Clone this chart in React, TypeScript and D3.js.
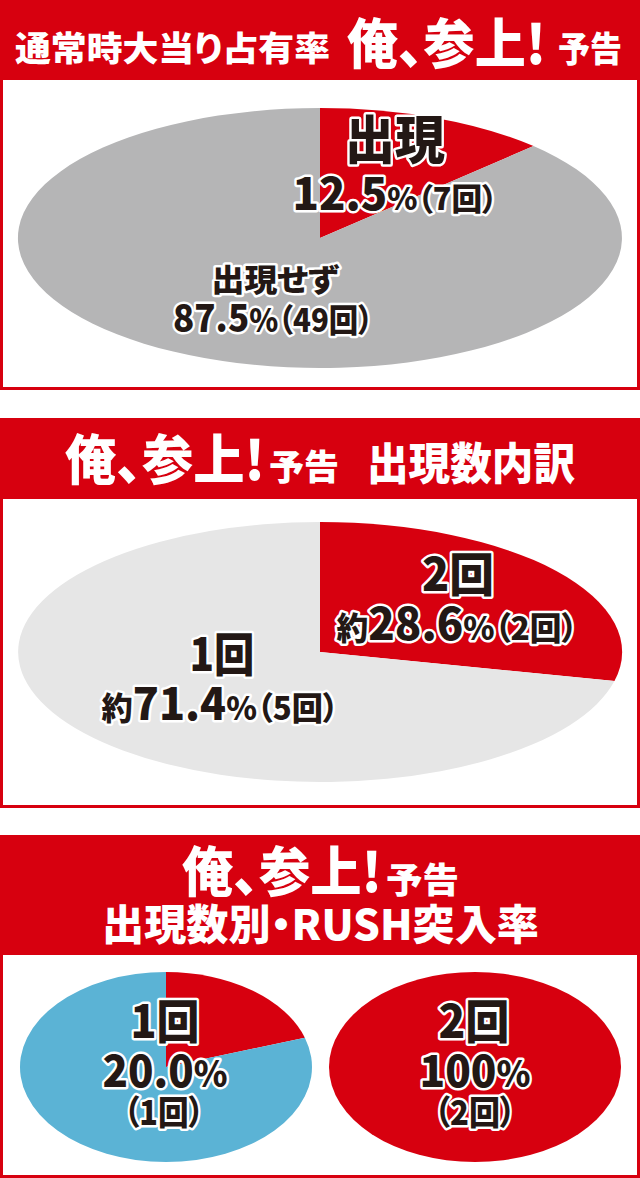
import React from 'react';
import * as d3 from 'd3';

// chart data
const shareLabels = ['出現', '出現せず'];
const shareValues = [12.5, 87.5];
const shareCounts = [7, 49];

const breakdownLabels = ['2回', '1回'];
const breakdownValues = [28.6, 71.4];
const breakdownCounts = [2, 5];

const rushLabels = ['1回', '2回'];
const rushRates = [20.0, 100];
const rushCounts = [1, 2];

const RED = '#d7000f';
const GREY = '#b5b5b6';
const LIGHT = '#e6e6e6';
const BLUE = '#5bb3d5';
const INK = '#231815';
const FONT = "'Noto Sans CJK JP', 'Noto Sans', sans-serif";
const PALT: React.CSSProperties = { fontFeatureSettings: '"palt"' };

const pie = d3.pie<number>().sort(null).value((d) => d);
const arc = d3.arc<d3.PieArcDatum<number>>().innerRadius(0).outerRadius(1);

type Part = { t: string; size: number };

const Label: React.FC<{ x: number; y: number; w: number; parts: Part[] }> = ({ x, y, w, parts }) => (
  <text
    x={x}
    y={y}
    textAnchor="middle"
    textLength={w}
    lengthAdjust="spacingAndGlyphs"
    fill={INK}
    stroke="#fff"
    strokeWidth={5}
    strokeLinejoin="round"
    paintOrder="stroke"
    fontFamily={FONT}
    fontWeight={900}
    style={PALT}
  >
    {parts.map((p, i) => (
      <tspan key={i} fontSize={p.size}>{p.t}</tspan>
    ))}
  </text>
);

const Title: React.FC<{ x: number; y: number; w: number; size: number; t: string }> = ({ x, y, w, size, t }) => (
  <text
    x={x}
    y={y}
    textLength={w}
    lengthAdjust="spacingAndGlyphs"
    fill="#fff"
    fontFamily={FONT}
    fontWeight={900}
    fontSize={size}
    style={PALT}
  >
    {t}
  </text>
);

const Pie: React.FC<{ cx: number; cy: number; rx: number; ry: number; values: number[]; colors: string[] }> = ({
  cx, cy, rx, ry, values, colors,
}) => (
  <g transform={`translate(${cx},${cy}) scale(${rx},${ry})`}>
    {pie(values).map((d, i) => (
      <path key={i} d={arc(d) || ''} fill={colors[i]} />
    ))}
  </g>
);

const Panel: React.FC<{ y0: number; y1: number; head: number }> = ({ y0, y1, head }) => (
  <g>
    <rect x={0} y={y0} width={640} height={y1 - y0} fill={RED} />
    <rect x={3} y={y0 + head} width={634} height={y1 - y0 - head - 3} fill="#fff" />
  </g>
);

const pct = (v: number) => v.toFixed(1);

export default function App() {
  return (
    <svg width={640} height={1178} style={{ position: 'absolute', left: 0, top: 0 }}>
      <rect width={640} height={1178} fill="#fff" />

      {/* panel 1 */}
      <Panel y0={0} y1={390} head={80} />
      <Title x={15} y={61} w={315} size={34} t="通常時大当り占有率" />
      <Title x={347} y={64} w={199} size={54} t="俺、参上!" />
      <Title x={558} y={62} w={64} size={35} t="予告" />
      <Pie cx={320} cy={238} rx={302} ry={130} values={shareValues} colors={[RED, GREY]} />
      <Label x={395} y={159} w={100} parts={[{ t: shareLabels[0], size: 52 }]} />
      <Label
        x={395}
        y={210}
        w={205}
        parts={[
          { t: pct(shareValues[0]), size: 44 },
          { t: `%（${shareCounts[0]}回）`, size: 31 },
        ]}
      />
      <Label x={275} y={291} w={127} parts={[{ t: shareLabels[1], size: 31 }]} />
      <Label
        x={273}
        y={332}
        w={200}
        parts={[
          { t: pct(shareValues[1]), size: 38 },
          { t: `%（${shareCounts[1]}回）`, size: 32 },
        ]}
      />

      {/* panel 2 */}
      <Panel y0={418} y1={808} head={81} />
      <Title x={65} y={480} w={200} size={54} t="俺、参上!" />
      <Title x={269} y={480} w={70} size={35} t="予告" />
      <Title x={367} y={480} w={208} size={44} t="出現数内訳" />
      <Pie cx={320} cy={652} rx={302} ry={130} values={breakdownValues} colors={[RED, LIGHT]} />
      <Label x={458} y={591} w={72} parts={[{ t: breakdownLabels[0], size: 46 }]} />
      <Label
        x={457}
        y={640}
        w={241}
        parts={[
          { t: '約', size: 32 },
          { t: pct(breakdownValues[0]), size: 44 },
          { t: `%（${breakdownCounts[0]}回）`, size: 32 },
        ]}
      />
      <Label x={222} y={671} w={65} parts={[{ t: breakdownLabels[1], size: 46 }]} />
      <Label
        x={220}
        y={720}
        w={237}
        parts={[
          { t: '約', size: 32 },
          { t: pct(breakdownValues[1]), size: 44 },
          { t: `%（${breakdownCounts[1]}回）`, size: 32 },
        ]}
      />

      {/* panel 3 */}
      <Panel y0={835} y1={1178} head={120} />
      <Title x={182} y={892} w={200} size={54} t="俺、参上!" />
      <Title x={386} y={893} w={73} size={35} t="予告" />
      <Title x={102} y={940} w={437} size={42} t="出現数別・RUSH突入率" />
      <Pie cx={166} cy={1067} rx={146} ry={95} values={[rushRates[0], 100 - rushRates[0]]} colors={[RED, BLUE]} />
      <Pie cx={475} cy={1067} rx={146} ry={95} values={[rushRates[1], 100 - rushRates[1]]} colors={[RED, BLUE]} />

      <Label x={165} y={1038} w={69} parts={[{ t: rushLabels[0], size: 46 }]} />
      <Label
        x={165}
        y={1087}
        w={125}
        parts={[
          { t: pct(rushRates[0]), size: 44 },
          { t: '%', size: 36 },
        ]}
      />
      <Label x={164} y={1125} w={80} parts={[{ t: `（${rushCounts[0]}回）`, size: 34 }]} />

      <Label x={474} y={1038} w={71} parts={[{ t: rushLabels[1], size: 46 }]} />
      <Label
        x={475}
        y={1087}
        w={111}
        parts={[
          { t: String(rushRates[1]), size: 44 },
          { t: '%', size: 36 },
        ]}
      />
      <Label x={475} y={1125} w={81} parts={[{ t: `（${rushCounts[1]}回）`, size: 34 }]} />
    </svg>
  );
}
